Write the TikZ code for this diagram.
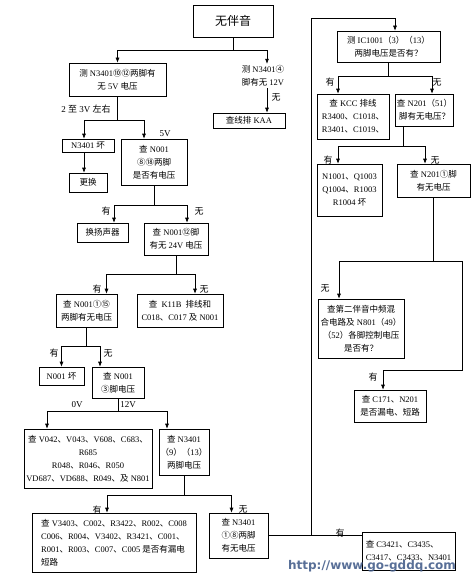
\documentclass[tikz,border=0pt]{standalone}
\usepackage{fontspec}
\setmainfont{Liberation Serif}
\newfontfamily\cjkfont{Noto Sans CJK SC}
\newfontfamily\wmfont{DejaVu Sans}
\usetikzlibrary{arrows.meta}

% switch to the CJK font for Chinese characters
\XeTeXinterchartokenstate=1
\newXeTeXintercharclass\cjkclass
\newcount\cjkcode
\def\setcjkrange#1#2{\cjkcode=#1\relax
  \loop \XeTeXcharclass\cjkcode=\cjkclass
  \ifnum\cjkcode<#2\relax \advance\cjkcode by 1 \repeat}
\setcjkrange{"4E00}{"9FFF}
\setcjkrange{"3000}{"303F}
\setcjkrange{"FF00}{"FFEF}
\setcjkrange{"2460}{"24FF}
\XeTeXinterchartoks 0 \cjkclass = {\cjkfont}
\XeTeXinterchartoks 4095 \cjkclass = {\cjkfont}
\XeTeXinterchartoks \cjkclass 0 = {\rmfamily}
\XeTeXinterchartoks \cjkclass 4095 = {\rmfamily}

\definecolor{wmblue}{RGB}{70,95,140}

\begin{document}
\begin{tikzpicture}[x=1pt, y=-1pt, >={Latex[length=5pt,width=4pt]}, line width=0.6pt,
    box/.style={draw, inner sep=1.5pt, align=center, font=\fontsize{8.5}{13}\selectfont},
    lbl/.style={inner sep=0pt, font=\fontsize{9}{11}\selectfont}]
    \useasboundingbox (0,0) rectangle (473,578);

    % left column
    \node[box, font=\fontsize{12}{14}\selectfont, minimum width=80, minimum height=32] (top) at (233,21) {无伴音};
    \node[box, minimum width=97, minimum height=33] (m5v) at (117.5,79.5) {测 N3401⑩⑫两脚有\\无 5V 电压};
    \node[box, draw=none] (t12) at (263,76) {测 N3401④\\脚有无 12V};
    \node[box, minimum width=72, minimum height=15] (kaa) at (249,120.5) {查线排 KAA};
    \node[box, minimum width=52, minimum height=13] (bad3401) at (88,145.5) {N3401 坏};
    \node[box, minimum width=38, minimum height=19] (replace) at (88,182.5) {更换};
    \node[box, minimum width=66, minimum height=46] (n001a) at (154,162) {查 N001\\⑧⑱两脚\\是否有电压};
    \node[box, minimum width=51, minimum height=19] (spk) at (102.5,232.5) {换扬声器};
    \node[box, minimum width=64, minimum height=32] (n001b) at (176,239) {查 N001⑫脚\\有无 24V 电压};
    \node[box, minimum width=61, minimum height=33] (n001c) at (86.5,310.5) {查 N001①⑮\\两脚有无电压};
    \node[box, minimum width=86, minimum height=33] (k11b) at (180,310.5) {查~~K11B~~排线和\\C018、C017 及 N001};
    \node[box, minimum width=45, minimum height=18] (bad001) at (61.5,376) {N001 坏};
    \node[box, minimum width=52, minimum height=31] (n001d) at (118,382.5) {查 N001\\③脚电压};
    \node[box, minimum width=128, minimum height=59] (v042) at (88,458.5) {查 V042、V043、V608、C683、\\R685\\R048、R046、R050\\VD687、VD688、R049、及 N801};
    \node[box, minimum width=50, minimum height=46] (n3401b) at (184,452) {查 N3401\\（9）（13）\\两脚电压};
    \node[box, align=left, minimum width=164, minimum height=59] (v3403) at (114,542.5) {查 V3403、C002、R3422、R002、C008\\C006、R004、V3402、R3421、C001、\\R001、R003、C007、C005 是否有漏电\\短路};
    \node[box, minimum width=59, minimum height=45] (n3401c) at (238.5,535.5) {查 N3401\\①⑧两脚\\有无电压};
    \node[box, align=left, minimum width=93, minimum height=38] (c3421) at (408.5,551) {查 C3421、C3435、\\C3417、C3433、N3401};

    % right column
    \node[box, minimum width=103, minimum height=31] (ic1001) at (388.5,46.5) {测 IC1001（3）（13）\\两脚电压是否有？};
    \node[box, minimum width=72, minimum height=45] (kcc) at (353,116.5) {查 KCC 排线\\R3400、C1018、\\R3401、C1019、};
    \node[box, minimum width=57, minimum height=32] (n201a) at (424.5,110) {查 N201（51）\\脚有无电压？};
    \node[box, minimum width=65, minimum height=52] (n1001) at (349.5,190) {N1001、Q1003\\Q1004、R1003\\R1004 坏};
    \node[box, minimum width=73, minimum height=33] (n201b) at (433.5,180.5) {查 N201①脚\\有无电压};
    \node[box, minimum width=86, minimum height=59] (second) at (361,328.5) {查第二伴音中频混\\合电路及 N801（49）\\（52）各脚控制电压\\是否有？};
    \node[box, minimum width=72, minimum height=32] (c171) at (390,406) {查 C171、N201\\是否漏电、短路};

    % connectors
    \draw (top.south) -- ++(0,13) coordinate (j0);
    \draw[->] (j0) -| (m5v);
    \draw[->] (j0) -| ([xshift=4pt]t12.north);
    \draw[->] ([xshift=4pt]t12.south) -- ([xshift=4pt]t12.south |- kaa.north);

    \draw (m5v.south) -- ++(0,24) coordinate (j1);
    \draw[->] (j1) -| ([xshift=-4pt]bad3401.north);
    \draw[->] (j1) -| ([xshift=-10pt]n001a.north);
    \draw[->] ([xshift=-4pt]bad3401.south) -- ([xshift=-4pt]bad3401.south |- replace.north);

    \draw (n001a.south) -- ++(0,20) coordinate (j2);
    \draw[->] (j2) -| ([xshift=11.5pt]spk.north);
    \draw[->] (j2) -| ([xshift=11pt]n001b.north);

    \draw (n001b.south) -- ++(0,19) coordinate (j3);
    \draw[->] (j3) -| ([xshift=20pt]n001c.north);
    \draw[->] (j3) -| ([xshift=15pt]k11b.north);

    \draw (n001c.south) -- ++(0,19) coordinate (j4);
    \draw[->] (j4) -| (bad001);
    \draw[->] (j4) -| ([xshift=-18pt]n001d.north);

    \draw (n001d.south) -- ++(0,13) coordinate (j5);
    \draw[->] (j5) -| ([xshift=-41pt]v042.north);
    \draw[->] (j5) -| ([xshift=-17pt]n3401b.north);

    \draw (n3401b.south) -- ++(0,20) coordinate (j6);
    \draw[->] (j6) -| ([xshift=-7pt]v3403.north);
    \draw[->] (j6) -| ([xshift=-7pt]n3401c.north);

    \draw (n3401c.east) -- (c3421.west |- n3401c.east);
    \draw[->] (n3401c.east) -| ++(43,-517.5) -| ([xshift=6.5pt]ic1001.north);

    \draw (ic1001.south) -- ++(0,14) coordinate (j7);
    \draw[->] (j7) -| ([xshift=-15pt]kcc.north);
    \draw[->] (j7) -| ([xshift=7.5pt]n201a.north);

    \draw ([xshift=-21pt]n201a.south) -- ++(0,20) coordinate (j8);
    \draw[->] (j8) -| ([xshift=-11.5pt]n1001.north);
    \draw[->] (j8) -| ([xshift=-8.5pt]n201b.north);

    \draw (n201b.south) -- ++(0,63.5) coordinate (j9);
    \draw[->] (j9) -| ([xshift=-22pt]second.north);
    \draw[->] (j9) -| ++(29,109) -| ([xshift=-7pt]c171.north);

    % branch labels
    \node[lbl] (l1) at (86,109) {2 至 3V 左右};
    \node[lbl] (l2) at (165,134) {5V};
    \node[lbl] (l3) at (276,97) {无};
    \node[lbl] (l4) at (106,211) {有};
    \node[lbl] (l5) at (199,211) {无};
    \node[lbl] (l6) at (97,289) {有};
    \node[lbl] (l7) at (204,289) {无};
    \node[lbl] (l8) at (54,353) {有};
    \node[lbl] (l9) at (108,353) {无};
    \node[lbl] (l10) at (77,405) {0V};
    \node[lbl] (l11) at (128,405) {12V};
    \node[lbl] (l12) at (97,510) {有};
    \node[lbl] (l13) at (243,509) {无};
    \node[lbl] (l14) at (340,533) {有};
    \node[lbl] (l15) at (330,82) {有};
    \node[lbl] (l16) at (437,82) {无};
    \node[lbl] (l17) at (328,160) {有};
    \node[lbl] (l18) at (435,160) {无};
    \node[lbl] (l19) at (325,288) {无};
    \node[lbl] (l20) at (373,377) {有};

    % watermark
    \node[inner sep=0pt, font=\wmfont\bfseries\fontsize{12}{12}\selectfont, text=wmblue, opacity=0.9] (wm) at (372,566) {http://www.go-gddq.com};
\end{tikzpicture}
\end{document}
